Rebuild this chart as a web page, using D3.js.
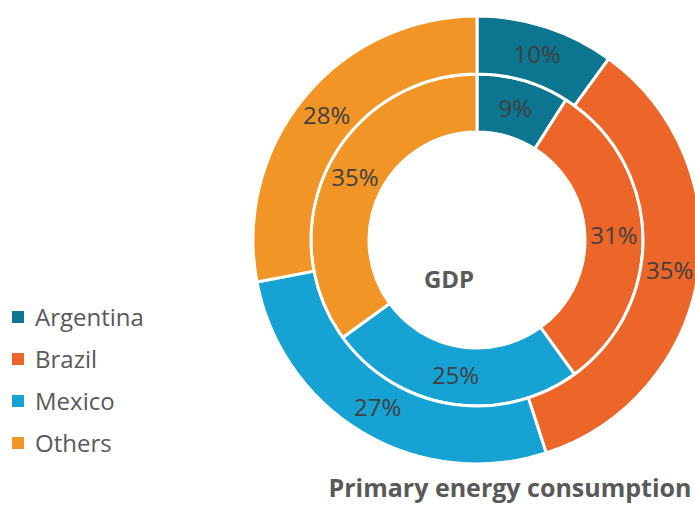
<!DOCTYPE html>
<html>
<head>
<meta charset="utf-8">
<script src="https://cdn.jsdelivr.net/npm/d3@7"></script>
<style>
  html, body { margin: 0; padding: 0; background: #ffffff; }
  svg { display: block; font-family: "Open Sans", "Noto Sans", sans-serif; }
</style>
</head>
<body>
<svg id="chart" width="695" height="509"></svg>
<script>
// Shares by country (%)
const categories = ["Argentina", "Brazil", "Mexico", "Others"];
const energyShare = [10, 35, 27, 28];   // outer ring: primary energy consumption
const gdpShare = [9, 31, 25, 35];       // inner ring: GDP
const colors = ["#0C7590", "#EB6628", "#16A3D3", "#F29527"];

const svg = d3.select("#chart");
const cx = 477, cy = 240;

const color = d3.scaleOrdinal().domain(categories).range(colors);
const pie = d3.pie().sort(null).value(d => d.value);

const rings = [
  { name: "gdp", values: gdpShare, inner: 108, outer: 166 },
  { name: "energy", values: energyShare, inner: 166, outer: 224 }
];

const g = svg.append("g").attr("transform", `translate(${cx},${cy})`);

rings.forEach(ring => {
  const data = categories.map((c, i) => ({ category: c, value: ring.values[i] }));
  const arcs = pie(data);
  const arc = d3.arc().innerRadius(ring.inner).outerRadius(ring.outer);
  const rg = g.append("g").attr("class", "ring-" + ring.name);
  rg.selectAll("path")
    .data(arcs)
    .join("path")
    .attr("d", arc)
    .attr("fill", d => color(d.data.category))
    .attr("stroke", "#ffffff")
    .attr("stroke-width", 3);
  rg.selectAll("text")
    .data(arcs)
    .join("text")
    .attr("transform", d => `translate(${arc.centroid(d)})`)
    .attr("text-anchor", "middle")
    .attr("dy", "0.36em")
    .attr("font-size", 24)
    .attr("fill", "#404040")
    .text(d => d.data.value + "%");
});

// Ring captions
svg.append("text")
  .attr("x", 449).attr("y", 288)
  .attr("text-anchor", "middle")
  .attr("font-size", 24).attr("font-weight", "bold")
  .attr("fill", "#595959")
  .text("GDP");

svg.append("text")
  .attr("x", 510).attr("y", 497)
  .attr("text-anchor", "middle")
  .attr("font-size", 25).attr("font-weight", "bold")
  .attr("fill", "#595959")
  .text("Primary energy consumption");

// Legend
const legend = svg.append("g").attr("transform", "translate(12,311)");
const item = legend.selectAll("g")
  .data(categories)
  .join("g")
  .attr("transform", (d, i) => `translate(0,${i * 42})`);
item.append("rect")
  .attr("width", 12).attr("height", 12)
  .attr("fill", d => color(d));
item.append("text")
  .attr("x", 23).attr("y", 15)
  .attr("font-size", 24)
  .attr("fill", "#595959")
  .text(d => d);
</script>
</body>
</html>
